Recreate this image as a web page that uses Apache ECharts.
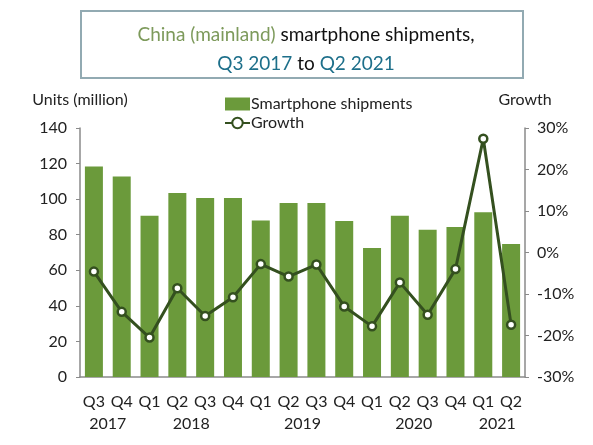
<!DOCTYPE html>
<html>
<head>
<meta charset="utf-8">
<script src="https://cdn.jsdelivr.net/npm/echarts@6/dist/echarts.min.js"></script>
<style>html,body{margin:0;padding:0;background:#fff}#c{width:593px;height:445px}</style>
</head>
<body>
<div id="c"></div>
<script>
var quarters = ['Q3','Q4','Q1','Q2','Q3','Q4','Q1','Q2','Q3','Q4','Q1','Q2','Q3','Q4','Q1','Q2'];
var yearLabels = ['', '2017', '', '', '2018', '', '', '', '2019', '', '', '', '2020', '', '', '2021', ''];
var shipments = [118.4, 112.8, 90.7, 103.4, 100.6, 100.6, 88.0, 97.8, 97.8, 87.7, 72.5, 90.7, 82.8, 84.3, 92.7, 74.8];
var growth = [-4.6, -14.3, -20.5, -8.6, -15.3, -10.8, -2.8, -5.8, -2.9, -13.0, -17.8, -7.2, -15.0, -4.0, 27.4, -17.4];
var leftTicks = [0, 20, 40, 60, 80, 100, 120, 140];
var rightTicks = [-30, -20, -10, 0, 10, 20, 30];

var FONT = 'Lato';
var TXT = '#222';
var FS = 16;
var chart = echarts.init(document.getElementById('c'));
chart.setOption({
  animation: false,
  textStyle: {fontFamily: FONT},
  graphic: [{
    type: 'rect', left: 80, top: 10,
    shape: {width: 442, height: 67},
    style: {fill: '#fff', stroke: '#92aab2', lineWidth: 2}
  }],
  title: {
    left: 301, top: 15, textAlign: 'center',
    text: '{g|China (mainland)} smartphone shipments,\n{b|Q3 2017} to {b|Q2 2021}',
    textStyle: {
      fontFamily: FONT, fontSize: 19, fontWeight: 'normal', color: '#111', lineHeight: 29,
      rich: {
        g: {color: '#7d9a5b', fontSize: 19, fontFamily: FONT, lineHeight: 29},
        b: {color: '#1d6f8a', fontSize: 19, fontFamily: FONT, lineHeight: 29}
      }
    }
  },
  legend: {
    orient: 'vertical', left: 219, top: 91, itemGap: 3,
    itemWidth: 25, itemHeight: 13,
    textStyle: {fontFamily: FONT, fontSize: FS, color: TXT, padding: [0,0,0,-4]},
    data: [{name: 'Smartphone shipments', icon: 'rect'}, {name: 'Growth'}]
  },
  grid: {left: 80, right: 68, top: 128, bottom: 68},
  xAxis: [{
    type: 'category', data: quarters, position: 'bottom',
    axisLine: {lineStyle: {color: '#8a8a8a', width: 1.5}},
    axisTick: {show: false},
    axisLabel: {interval: 0, color: TXT, fontSize: FS, fontFamily: FONT, margin: 17}
  }, {
    type: 'category', data: yearLabels, position: 'bottom', boundaryGap: false,
    axisLine: {show: false}, axisTick: {show: false},
    axisLabel: {interval: 0, color: TXT, fontSize: FS, fontFamily: FONT, margin: 39}
  }],
  yAxis: [{
    type: 'value', min: 0, max: 140, interval: 20,
    name: 'Units (million)', nameLocation: 'end', nameGap: 20,
    nameTextStyle: {color: TXT, fontSize: FS, fontFamily: FONT, align: 'center'},
    axisLine: {show: true, lineStyle: {color: '#8a8a8a', width: 1.5}},
    axisTick: {show: true, length: 4, lineStyle: {color: '#8a8a8a'}},
    splitLine: {show: false},
    axisLabel: {color: TXT, fontSize: FS, fontFamily: FONT, margin: 13}
  }, {
    type: 'value', min: -30, max: 30, interval: 10, position: 'right',
    name: 'Growth', nameLocation: 'end', nameGap: 20,
    nameTextStyle: {color: TXT, fontSize: FS, fontFamily: FONT, align: 'center'},
    axisLine: {show: true, lineStyle: {color: '#8a8a8a', width: 1.5}},
    axisTick: {show: true, length: 4, lineStyle: {color: '#8a8a8a'}},
    splitLine: {show: false},
    axisLabel: {color: TXT, fontSize: FS, fontFamily: FONT, margin: 12, formatter: '{value}%'}
  }],
  series: [{
    name: 'Smartphone shipments', type: 'bar', data: shipments,
    xAxisIndex: 0, yAxisIndex: 0, barWidth: 18,
    itemStyle: {color: '#6b9a3b'}
  }, {
    name: 'Growth', type: 'line', data: growth,
    xAxisIndex: 0, yAxisIndex: 1,
    symbol: 'circle', symbolSize: 8,
    lineStyle: {color: '#34501f', width: 3},
    itemStyle: {color: '#fff', borderColor: '#34501f', borderWidth: 2.5}
  }]
});
</script>
</body>
</html>
